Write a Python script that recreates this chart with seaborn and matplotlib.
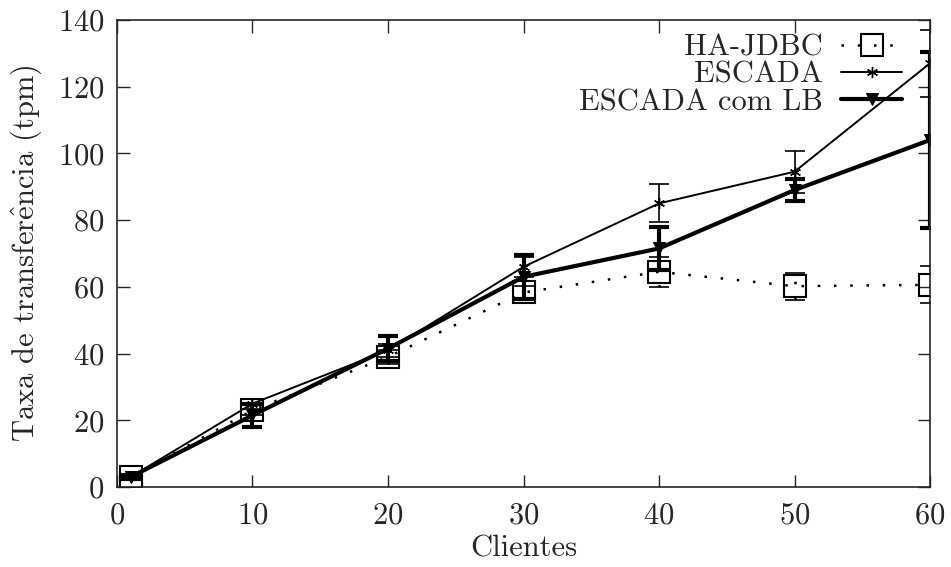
import seaborn as sns
import numpy as np
import pandas as pd
import matplotlib.pyplot as plt

# values
clients = [1, 10, 20, 30, 40, 50, 60]
ha_jdbc = [3, 23, 39, 58.3, 64.5, 60.2, 60.6]
ha_jdbc_err = [1, 1.5, 2, 2, 4.5, 4, 5.5]
escada = [3, 25, 41, 66, 85, 94.5, 127]
escada_err = [0.5, 1.5, 2, 3, 5.7, 6.3, 10]
escada_lb = [3, 21.5, 41.5, 63, 71.5, 89, 104]
escada_lb_err = [0.5, 3.5, 3.7, 6.5, 6.5, 3.3, 26.5]

df = pd.DataFrame({'clients': clients, 'ha': ha_jdbc, 'esc': escada, 'lb': escada_lb})

sns.set_style("ticks")
plt.rcParams['font.family'] = ['cmr10', 'DejaVu Serif']
plt.rcParams['axes.formatter.use_mathtext'] = True
plt.rcParams['mathtext.fontset'] = 'cm'

fig = plt.figure(figsize=(9.51, 5.67), dpi=100)
ax = fig.add_axes([0.123, 0.141, 0.855, 0.824])

dots = (0, (1, 5.5))
sns.lineplot(x='clients', y='ha', data=df, ax=ax, color='black', linestyle=dots, linewidth=1.8,
             marker='s', markersize=16, markerfacecolor='none', markeredgecolor='black',
             markeredgewidth=1.5, label='HA-JDBC')
sns.lineplot(x='clients', y='esc', data=df, ax=ax, color='black', linewidth=1.4,
             marker=(6, 2, 0), markersize=8, markeredgecolor='black', markeredgewidth=1.0,
             label='ESCADA')
sns.lineplot(x='clients', y='lb', data=df, ax=ax, color='black', linewidth=3,
             marker='v', markersize=9, markeredgecolor='black', label='ESCADA com LB')

bars = []
eb = ax.errorbar(clients, ha_jdbc, yerr=ha_jdbc_err, fmt='none', ecolor='black', elinewidth=1.8,
                 capsize=7, capthick=1.2)
for c in eb[2]:
    c.set_linestyle(dots)
bars.append(eb)
bars.append(ax.errorbar(clients, escada, yerr=escada_err, fmt='none', ecolor='black',
                        elinewidth=1.2, capsize=7, capthick=1.2))
bars.append(ax.errorbar(clients, escada_lb, yerr=escada_lb_err, fmt='none', ecolor='black',
                        elinewidth=3, capsize=7, capthick=3))
for b in bars:
    for cap in b[1]:
        cap.set_clip_path(ax.patch)

ax.set_xlim(0, 60)
ax.set_ylim(0, 140)
ax.set_xticks(np.arange(0, 61, 10))
ax.set_yticks(np.arange(0, 141, 20))
ax.tick_params(direction='in', length=9, width=1, top=True, right=True, labelsize=22, pad=9)
ax.tick_params(axis='x', pad=11)
for s in ax.spines.values():
    s.set_linewidth(1.2)
ax.set_xlabel('Clientes', fontsize=22, labelpad=4)
ax.set_ylabel(r'Taxa de transfer$\hat{\mathrm{e}}$ncia (tpm)', fontsize=22, labelpad=10)

ax.legend(loc='upper right', frameon=False, markerfirst=False, fontsize=22,
          handlelength=2.0, handletextpad=0.6, labelspacing=0.0,
          borderaxespad=0.0, borderpad=0.0, bbox_to_anchor=(0.966, 0.97))

fig.savefig('out.png', dpi=100)
